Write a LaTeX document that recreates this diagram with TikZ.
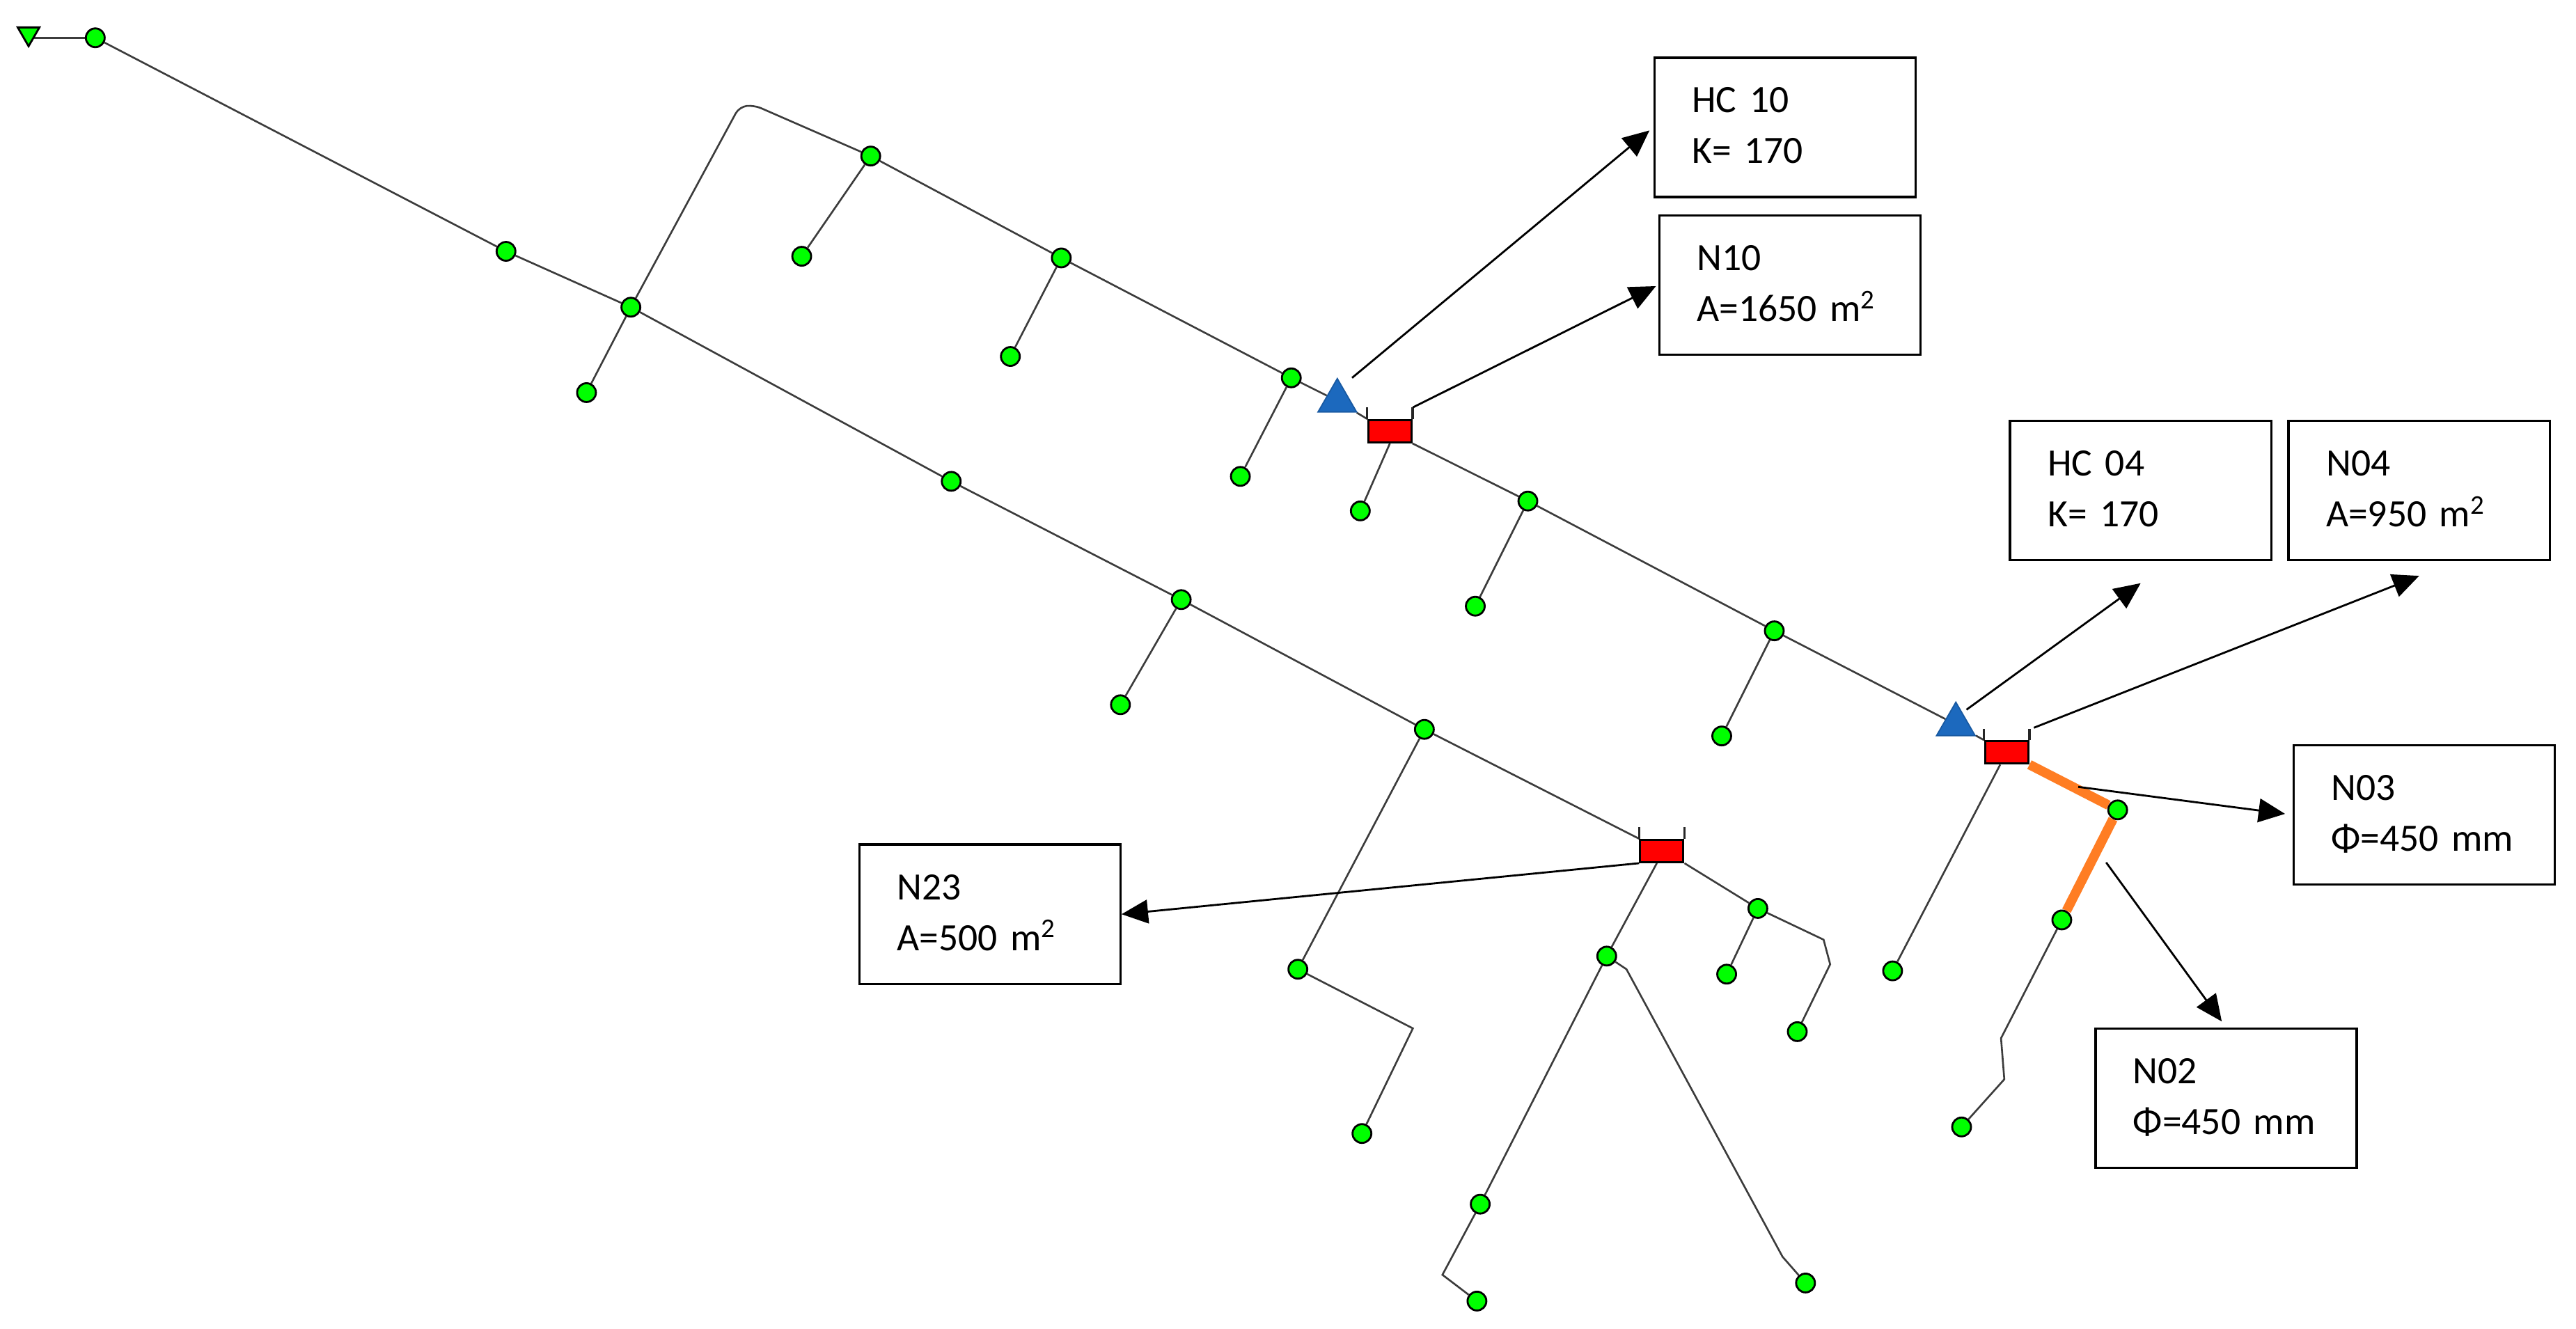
\documentclass[tikz,border=0pt]{standalone}
\usepackage{fontspec}
\setmainfont{Carlito}
\definecolor{netgreen}{RGB}{0,255,0}
\definecolor{netblue}{RGB}{28,105,190}
\definecolor{netorange}{RGB}{255,125,35}
\definecolor{netgrey}{RGB}{60,60,60}
\usetikzlibrary{arrows.meta,shapes.geometric,backgrounds}
\tikzset{
  junc/.style={circle,fill=netgreen,draw=black,line width=0.8pt,minimum size=0.27cm,inner sep=0pt},
  tankmark/.style={regular polygon,regular polygon sides=3,shape border rotate=180,fill=netgreen,draw=black,line width=0.8pt,minimum size=0.36cm,inner sep=0pt},
  valvemark/.style={regular polygon,regular polygon sides=3,fill=netblue,draw=netblue!85!black,line width=0.5pt,minimum size=0.64cm,inner sep=0pt},
  pumpbox/.style={rectangle,fill=red,draw=black,line width=0.9pt,minimum width=0.62cm,minimum height=0.32cm,inner sep=0pt},
  labelbox/.style={rectangle,draw=black,line width=0.95pt,minimum width=3.75cm,minimum height=2cm,inner xsep=0.54cm,inner ysep=0pt,text width=2.67cm,align=left,font=\fontsize{15.8}{20.8}\selectfont,execute at end node={\rule[-1.4pt]{0pt}{1.4pt}}},
  pipe/.style={draw=netgrey,line width=0.75pt},
  tick/.style={draw=black!85,line width=0.9pt},
  hlpipe/.style={draw=netorange,line width=3.9pt},
  callout/.style={draw=black,line width=0.8pt,-{Triangle[length=0.38cm,width=0.34cm]}}
}
\begin{document}
\begin{tikzpicture}[x=0.023597cm,y=-0.023597cm]
  \useasboundingbox (0,0) rectangle (1568,809);
  \node[tankmark] (res) at (17.4,20.5) {};
  \node[junc] (n1) at (58,23) {};
  \node[junc] (n2) at (308,153) {};
  \node[junc] (n3) at (384,187) {};
  \node[junc] (n4) at (357,239) {};
  \node[junc] (n5) at (530,95) {};
  \node[junc] (n6) at (488,156) {};
  \node[junc] (n7) at (646,157) {};
  \node[junc] (n8) at (615,217) {};
  \node[junc] (n9) at (786,230) {};
  \node[junc] (n10) at (755,290) {};
  \node[junc] (n11) at (828,311) {};
  \node[junc] (n12) at (930,305) {};
  \node[junc] (n13) at (898,369) {};
  \node[junc] (n14) at (1080,384) {};
  \node[junc] (n15) at (1048,448) {};
  \node[junc] (n16) at (1289,493) {};
  \node[junc] (n17) at (1255,560) {};
  \node[junc] (n18) at (1152,591) {};
  \node[junc] (n19) at (1194,686) {};
  \node[junc] (n20) at (579,293) {};
  \node[junc] (n21) at (719,365) {};
  \node[junc] (n22) at (682,429) {};
  \node[junc] (n23) at (867,444) {};
  \node[junc] (n24) at (790,590) {};
  \node[junc] (n25) at (829,690) {};
  \node[junc] (n26) at (1070,553) {};
  \node[junc] (n27) at (1051,593) {};
  \node[junc] (n28) at (1094,628) {};
  \node[junc] (n29) at (978,582) {};
  \node[junc] (n30) at (901,733) {};
  \node[junc] (n31) at (899,792) {};
  \node[junc] (n32) at (1099,781) {};
  \node[valvemark] (hc1) at (814,244) {};
  \node[valvemark] (hc2) at (1190.5,441) {};
  \node[pumpbox] (p10) at (846,262.5) {};
  \node[pumpbox] (p4) at (1221.5,458) {};
  \node[pumpbox] (p23) at (1011.5,518) {};
  \node[labelbox] (hc10) at (1086.5,77.5) {HC 10\\K= 170};
  \node[labelbox] (b10) at (1089.5,173.5) {N10\\A=1650 m\textsuperscript{2}};
  \node[labelbox] (hc04) at (1303,298.5) {HC 04\\K= 170};
  \node[labelbox] (b04) at (1472.5,298.5) {N04\\A=950 m\textsuperscript{2}};
  \node[labelbox] (b03) at (1475.5,496) {N03\\Φ=450 mm};
  \node[labelbox] (b02) at (1355,668.5) {N02\\Φ=450 mm};
  \node[labelbox] (b23) at (602.5,556.5) {N23\\A=500 m\textsuperscript{2}};
  \coordinate (c1) at (450,65);
  \coordinate (c2) at (459,64);
  \coordinate (c3) at (860,626);
  \coordinate (c4) at (1110,572);
  \coordinate (c5) at (1114,587);
  \coordinate (c6) at (878,776);
  \coordinate (c7) at (990,590);
  \coordinate (c8) at (1085,765);
  \coordinate (c9) at (1218,632);
  \coordinate (c10) at (1220,657);
  \coordinate (s1) at (823,230);
  \coordinate (s2) at (860,248);
  \coordinate (s3) at (1197,432);
  \coordinate (s4) at (1238,443);
  \coordinate (s5) at (1265,479);
  \coordinate (s6) at (1282,525);
  \begin{scope}[on background layer]
    \draw[pipe] (res.center |- n1) -- (n1);
    \draw[pipe] (n1) -- (n2) -- (n3) -- (n20) -- (n21) -- (n23) -- (p23.north west);
    \draw[pipe] (n3) -- (n4);
    \draw[pipe,rounded corners=3pt] (n3) -- (c1) -- (c2) -- (n5);
    \draw[pipe] (n5) -- (n6);
    \draw[pipe] (n5) -- (n7) -- (n9) -- (hc1) -- (p10.north west);
    \draw[pipe] (n7) -- (n8);
    \draw[pipe] (n9) -- (n10);
    \draw[pipe] (p10.south) -- (n11);
    \draw[pipe] (p10.south east) -- (n12) -- (n14) -- (hc2) -- (p4.north west);
    \draw[pipe] (n12) -- (n13);
    \draw[pipe] (n14) -- (n15);
    \draw[pipe] (p4.south) ++(-4,0) -- (n18);
    \draw[pipe] (n17) -- (c9) -- (c10) -- (n19);
    \draw[hlpipe] (p4.south east) -- (n16) -- (n17);
    \draw[pipe] (n21) -- (n22);
    \draw[pipe] (n23) -- (n24) -- (c3) -- (n25);
    \draw[pipe] (p23.south east) -- (n26) -- (c4) -- (c5) -- (n28);
    \draw[pipe] (n26) -- (n27);
    \draw[pipe] (p23.south) ++(-3,0) -- (n29);
    \draw[pipe] (n29) -- (n30) -- (c6) -- (n31);
    \draw[pipe] (n29) -- (c7) -- (c8) -- (n32);
  \end{scope}
  \draw[tick] (p10.north west) -- ++(0,-7);
  \draw[tick] (p10.north east) -- ++(0,-7);
  \draw[tick] (p4.north west) -- ++(0,-7);
  \draw[tick] (p4.north east) -- ++(0,-7);
  \draw[tick] (p23.north west) -- ++(0,-7);
  \draw[tick] (p23.north east) -- ++(0,-7);
  \draw[callout,shorten >=2pt] (s1) -- (hc10.west);
  \draw[callout,shorten >=1pt] (s2) -- (b10.west);
  \draw[callout] (s3) -- ([yshift=-9pt]hc04.south);
  \draw[callout] (s4) -- ([yshift=-6pt]b04.south);
  \draw[callout,shorten >=3pt] (s5) -- (b03.west);
  \draw[callout,shorten >=3pt] (s6) -- (b02.north);
  \draw[callout] (p23.south west) -- (b23.east);
\end{tikzpicture}
\end{document}
